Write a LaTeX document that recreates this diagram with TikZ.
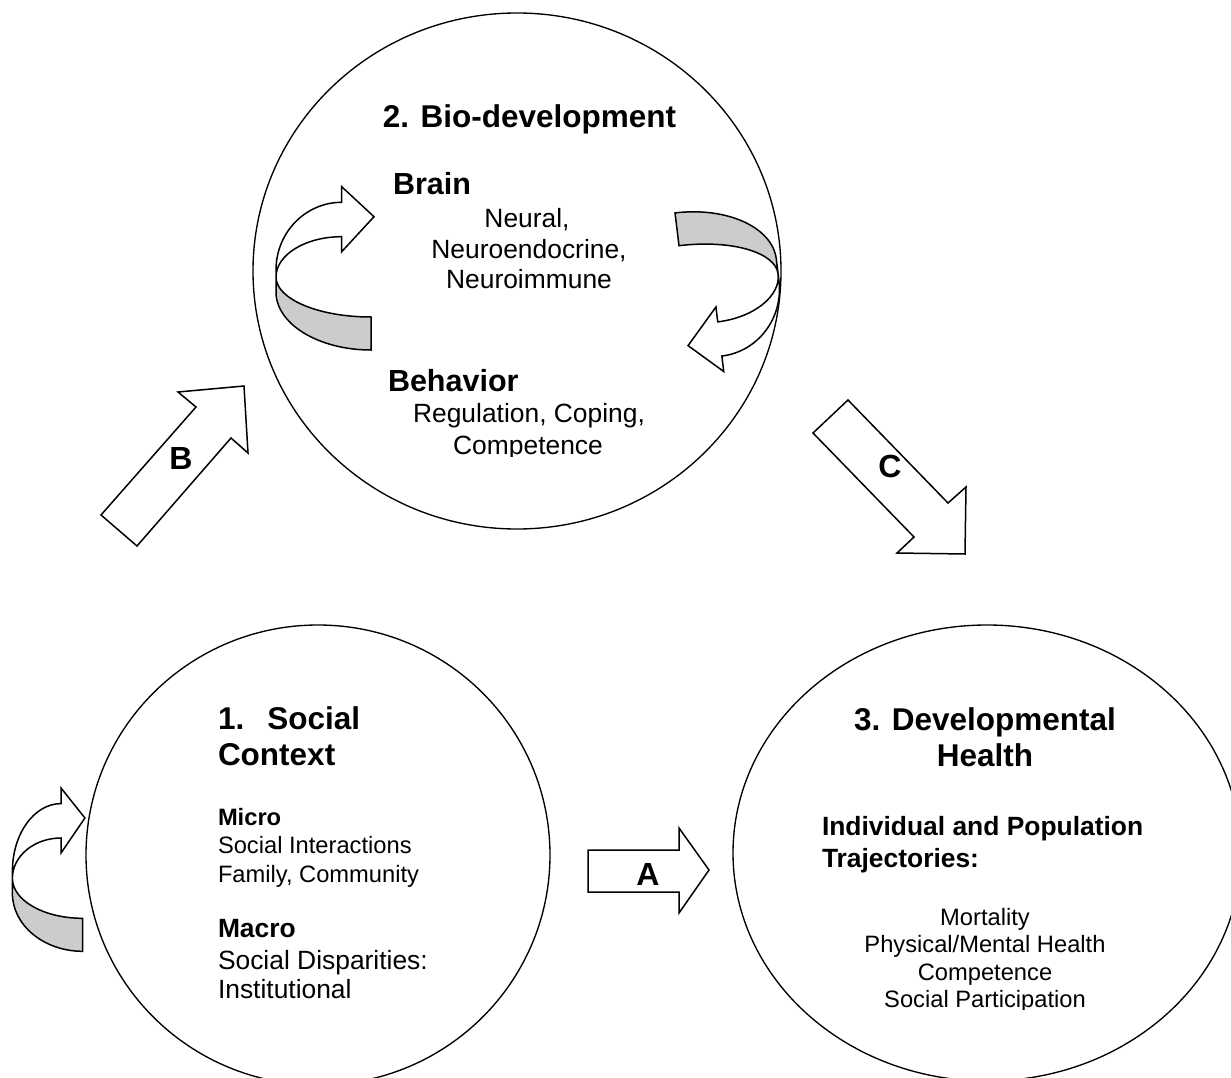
\documentclass[tikz,border=0pt]{standalone}
\usepackage{fontspec}
\setmainfont{Liberation Sans}
\definecolor{bandgray}{RGB}{204,204,204}
\newcommand\fsz[1]{\fontsize{#1}{#1}\selectfont}
\tikzset{
  outline/.style={draw=black,line width=1.5pt},
  ring/.style={draw=black,line width=1.35pt},
  blockarrow/.style={outline,fill=white,line join=miter},
  band/.style={outline,fill=bandgray},
  front/.style={outline,fill=white},
  lbl/.style={inner sep=0pt,outer sep=0pt},
  bigtitle/.style={lbl,font=\bfseries\fsz{31.5}},
  tophead/.style={lbl,font=\bfseries\fsz{30.5}},
  largehead/.style={lbl,font=\bfseries\fsz{26.4}},
  largebody/.style={lbl,font=\fsz{26.4}},
  smallhead/.style={lbl,font=\bfseries\fsz{23.7}},
  smallbody/.style={lbl,font=\fsz{23.7}},
  arrowlbl/.style={lbl,font=\bfseries\fsz{32}},
  curvarrow/.pic={
    \draw[band] (-95,0) .. controls (-95,22.1) and (-52.4,40) .. (0,40)
      -- (0,73) .. controls (-52.4,73) and (-95,47) .. (-95,15) -- cycle;
    \draw[front] (-95,-7) .. controls (-95,-44.4) and (-65.6,-74.7) .. (-29.3,-74.7)
      -- (-29.3,-90.3) -- (3,-60.3) -- (-29.3,-25.3) -- (-29.3,-40.3)
      .. controls (-65.6,-40.3) and (-95,-22.2) .. (-95,0) -- cycle;
  }
}
\begin{document}
\begin{tikzpicture}[x=1pt,y=-1pt]
\useasboundingbox (0,0) rectangle (1231,1078);

% circles
\coordinate (bio) at (517,271);
\coordinate (soc) at (318,855);
\coordinate (dev) at (987,853);
\draw[ring] (bio) ellipse [x radius=264pt, y radius=258pt];
\draw[ring] (soc) ellipse [x radius=232pt, y radius=230pt];
\draw[ring] (dev) ellipse [x radius=254pt, y radius=228pt];

% curved (feedback) arrows
\pic (loopbrain) at (371,277) {curvarrow};
\pic[rotate=186.9] (loopbehav) at (683.8,285.4) {curvarrow};
\pic[xscale=0.74] (loopsoc) at (82.7,878.3) {curvarrow};

% block arrows
\draw[blockarrow] (588,850) -- (679,850) -- (679,828) -- (709,870) -- (679,913)
  -- (679,892) -- (588,892) -- cycle;
\draw[blockarrow] (101,515) -- (196,407) -- (178,392) -- (244,386) -- (248,453)
  -- (231,438) -- (137,546) -- cycle;
\draw[blockarrow] (848,400) -- (948,503) -- (966,487) -- (965,554) -- (897,553)
  -- (914,537) -- (813,433) -- cycle;
\node[arrowlbl,anchor=base] (la) at (648,885) {A};
\node[arrowlbl,anchor=base] (lb) at (181,469) {B};
\node[arrowlbl,anchor=base] (lc) at (890,477) {C};

% 2. Bio-development
\node[bigtitle,anchor=base] (biotitle) at (529.5,128) {2. Bio-development};
\node[tophead,anchor=base west] (brain) at (393,195) {Brain};
\node[largebody,anchor=base] (neural) at (527,228) {Neural,};
\node[largebody,anchor=base] (neuroendo) at (529,258) {Neuroendocrine,};
\node[largebody,anchor=base] (neuroimm) at (529,288) {Neuroimmune};
\node[tophead,anchor=base west] (behavior) at (388,391) {Behavior};
\node[largebody,anchor=base] (regul) at (529,422) {Regulation, Coping,};
\begin{scope}
  \clip (380,430) rectangle (680,456);
  \node[largebody,anchor=base] (compbio) at (528,454) {Competence};
\end{scope}

% 1. Social Context
\node[bigtitle,anchor=base west] (soctitle) at (218,729) {1.\hspace{23pt}Social};
\node[bigtitle,anchor=base west] (context) at (218,765) {Context};
\node[smallhead,anchor=base west] (micro) at (218,825) {Micro};
\node[smallbody,anchor=base west] (socint) at (218,853) {Social Interactions};
\node[smallbody,anchor=base west] (family) at (218,882) {Family, Community};
\node[largehead,anchor=base west] (macro) at (218,937) {Macro};
\node[largebody,anchor=base west] (disp) at (218,969) {Social Disparities:};
\node[largebody,anchor=base west] (inst) at (218,998) {Institutional};

% 3. Developmental Health
\node[bigtitle,anchor=base] (devtitle) at (985,730) {3. Developmental};
\node[bigtitle,anchor=base] (health) at (985,766) {Health};
\node[largehead,anchor=base west] (indiv) at (822,835) {Individual and Population};
\node[largehead,anchor=base west] (traj) at (822,867) {Trajectories:};
\node[smallbody,anchor=base] (mort) at (985,925) {Mortality};
\node[smallbody,anchor=base] (phys) at (985,952) {Physical/Mental Health};
\node[smallbody,anchor=base] (compdev) at (985,980) {Competence};
\begin{scope}
  \clip (850,985) rectangle (1120,1009);
  \node[smallbody,anchor=base] (socpart) at (985,1007) {Social Participation};
\end{scope}
\end{tikzpicture}
\end{document}
